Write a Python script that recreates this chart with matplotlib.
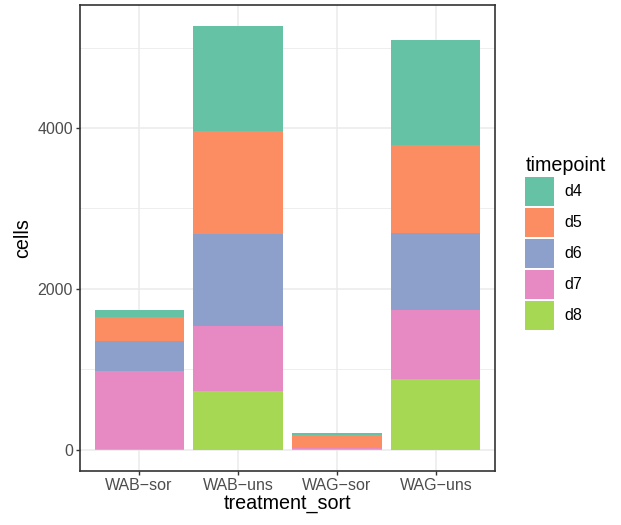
import matplotlib.pyplot as plt
from matplotlib.patches import Patch

treatments = ["WAB\u2212sor", "WAB\u2212uns", "WAG\u2212sor", "WAG\u2212uns"]
timepoints = ["d4", "d5", "d6", "d7", "d8"]

# counts per timepoint, one entry per treatment
d4 = [75, 1305, 25, 1309]
d5 = [306, 1280, 165, 1094]
d6 = [373, 1140, 3, 953]
d7 = [963, 812, 3, 862]
d8 = [15, 733, 15, 882]

colors = ["#66C2A5", "#FC8D62", "#8DA0CB", "#E78AC3", "#A6D854"]

plt.rcParams['font.family'] = ['Liberation Sans', 'DejaVu Sans']

fig = plt.figure(figsize=(6.21, 5.25), dpi=100)
ax = fig.add_axes([0.1283, 0.1029, 0.6693, 0.8881])

x = list(range(len(treatments)))
series = [d8, d7, d6, d5, d4]  # stacked from bottom
cols = [colors[4], colors[3], colors[2], colors[1], colors[0]]
bottom = [0] * len(treatments)
for vals, c in zip(series, cols):
    ax.bar(x, vals, width=0.9, bottom=bottom, color=c, linewidth=0, zorder=3)
    bottom = [b + v for b, v in zip(bottom, vals)]

top = max(bottom)
ax.set_xlim(-0.6, 3.6)
ax.set_ylim(-0.05 * top, top * 1.05)

ax.set_xticks(x)
ax.set_xticklabels(treatments)
ax.set_yticks([0, 2000, 4000])
ax.set_yticks([1000, 3000, 5000], minor=True)
ax.grid(True, which="major", color="#EBEBEB", linewidth=1.1, zorder=0)
ax.grid(True, which="minor", axis="y", color="#EBEBEB", linewidth=0.6, zorder=0)
ax.tick_params(axis="both", which="major", labelsize=11.5, labelcolor="#4D4D4D",
               color="#333333", length=2.8, width=1.0, pad=2)
ax.tick_params(axis="y", which="minor", length=0)
for s in ax.spines.values():
    s.set_color("#333333")
    s.set_linewidth(1.2)

ax.set_xlabel("treatment_sort", fontsize=14.2, labelpad=1)
ax.set_ylabel("cells", fontsize=14.2, labelpad=4)

handles = [Patch(facecolor=c, edgecolor="none") for c in colors]
leg = fig.legend(handles, timepoints, title="timepoint", loc="upper left",
                 bbox_to_anchor=(0.833, 0.719), frameon=False, fontsize=11.5,
                 title_fontsize=14.2, handlelength=1.82, handleheight=2.42,
                 labelspacing=0.125, handletextpad=0.63, borderpad=0)
leg._legend_box.align = "left"

fig.savefig("out.png", dpi=100)
